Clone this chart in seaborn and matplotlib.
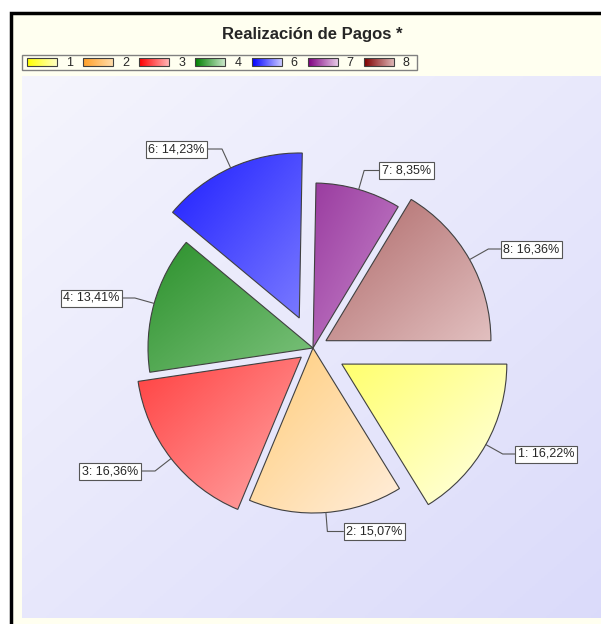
import numpy as np
import seaborn as sns
import matplotlib.pyplot as plt
from matplotlib.patches import Rectangle

# data
categories = ["1", "2", "3", "4", "6", "7", "8"]
shares = [16.22, 15.07, 16.36, 13.41, 14.23, 8.35, 16.36]
explode = [0.2, 0.0, 0.09, 0.0, 0.2, 0.0, 0.09]
title = "Realización de Pagos *"

# gradient colours: (top-left, bottom-right) for wedges, (left, right) for legend swatches
wedge_grad = [("#FFFF6E", "#FFFFE6"), ("#FFCC78", "#FFEEDC"), ("#FF4040", "#FFA8A8"),
              ("#2C912C", "#7CC27C"), ("#1E1EFF", "#7A7AFF"), ("#9A3CA0", "#C888CC"),
              ("#AE6868", "#E2C0C0")]
legend_grad = [("#FFFF00", "#FFFFC8"), ("#FFA028", "#FFDCAA"), ("#FF0000", "#FFB4B4"),
               ("#008000", "#C8E6C8"), ("#0000FF", "#C8C8FF"), ("#800080", "#E6C8E6"),
               ("#800000", "#DCB4B4")]
# label box centres in picture pixels (x, y from top)
label_pos = [(546, 454), (374.5, 531.5), (110, 471), (91.5, 298),
             (176.5, 149), (406.5, 170.5), (531.5, 249)]

W, H = 601, 624
sns.set_style("white")
plt.rcParams["font.family"] = ["Liberation Sans", "DejaVu Sans"]

fig = plt.figure(figsize=(W / 100, H / 100), dpi=100)
fig.patch.set_facecolor("white")

# background axes in pixel coordinates
bg = fig.add_axes([0, 0, 1, 1])
bg.set_xlim(0, W)
bg.set_ylim(H, 0)
bg.axis("off")

# chart frame
bg.add_patch(Rectangle((11, 12.5), 700, 700, facecolor="#FFFFF0", edgecolor="black", lw=2.5, zorder=0))

# plot area with diagonal gradient
gx, gy = np.meshgrid(np.linspace(0, 1, 200), np.linspace(0, 1, 200))
area_cmap = sns.blend_palette(["#F5F5FD", "#DADAFA"], as_cmap=True)
bg.imshow((gx + gy) / 2, cmap=area_cmap, extent=[22, 640, 618, 76], origin="upper",
          aspect="auto", zorder=1)
bg.set_xlim(0, W)
bg.set_ylim(H, 0)

bg.text(312, 34, title, ha="center", va="center", fontsize=12, fontweight="bold", zorder=3)

# legend
bg.add_patch(Rectangle((22, 55), 395, 15, facecolor="none", edgecolor="#808080", lw=1, zorder=3))
for i, cat in enumerate(categories):
    sx = 26.7 + i * 56.2
    sw = np.linspace(0, 1, 50).reshape(1, -1)
    bg.imshow(sw, cmap=sns.blend_palette(list(legend_grad[i]), as_cmap=True),
              extent=[sx, sx + 30, 66, 58], aspect="auto", zorder=3)
    bg.add_patch(Rectangle((sx, 58), 30, 8, facecolor="none", edgecolor="#404040", lw=0.8, zorder=4))
    bg.text(sx + 42.5, 62.5, cat, ha="center", va="center", fontsize=9, zorder=4)
bg.set_xlim(0, W)
bg.set_ylim(H, 0)

# pie axes: centre (313, 348), radius 165 px
cx, cy, r = 313, 348, 165
half = 1.5 * r
pax = fig.add_axes([(cx - half) / W, (H - cy - half) / H, 2 * half / W, 2 * half / H])
pax.patch.set_alpha(0)
wedges, _ = pax.pie(shares, explode=explode, startangle=0, counterclock=False, radius=1,
                    wedgeprops=dict(edgecolor="#404040", linewidth=0.8))
pax.set_xlim(-1.5, 1.5)
pax.set_ylim(-1.5, 1.5)
pax.axis("off")

for w, (c0, c1) in zip(wedges, wedge_grad):
    ext = w.get_path().get_extents()
    cmap = sns.blend_palette([c0, c1], as_cmap=True)
    im = pax.imshow((gx + gy) / 2, cmap=cmap, extent=[ext.x0, ext.x1, ext.y0, ext.y1],
                    origin="upper", aspect="auto", zorder=1)
    im.set_clip_path(w)
    w.set_facecolor("none")
    w.set_zorder(2)
pax.set_xlim(-1.5, 1.5)
pax.set_ylim(-1.5, 1.5)

# labels with leader lines
cum = np.cumsum([0] + shares[:-1])
for i, cat in enumerate(categories):
    mid = -(cum[i] + shares[i] / 2) * 3.6
    t = np.deg2rad(mid)
    d = 1 + explode[i]
    lx, ly = label_pos[i]
    pax.annotate(f"{cat}: {shares[i]:.2f}%".replace(".", ","),
                 xy=(d * np.cos(t), d * np.sin(t)), xycoords="data",
                 xytext=(lx, ly), textcoords=bg.transData,
                 ha="center", va="center", fontsize=9, zorder=5,
                 bbox=dict(boxstyle="square,pad=0.2", fc="white", ec="#555555", lw=0.8),
                 arrowprops=dict(arrowstyle="-", color="#555555", lw=0.8, shrinkA=0, shrinkB=0,
                                 connectionstyle=f"angle,angleA=0,angleB={mid},rad=0"))

fig.savefig("out.png", dpi=100)
